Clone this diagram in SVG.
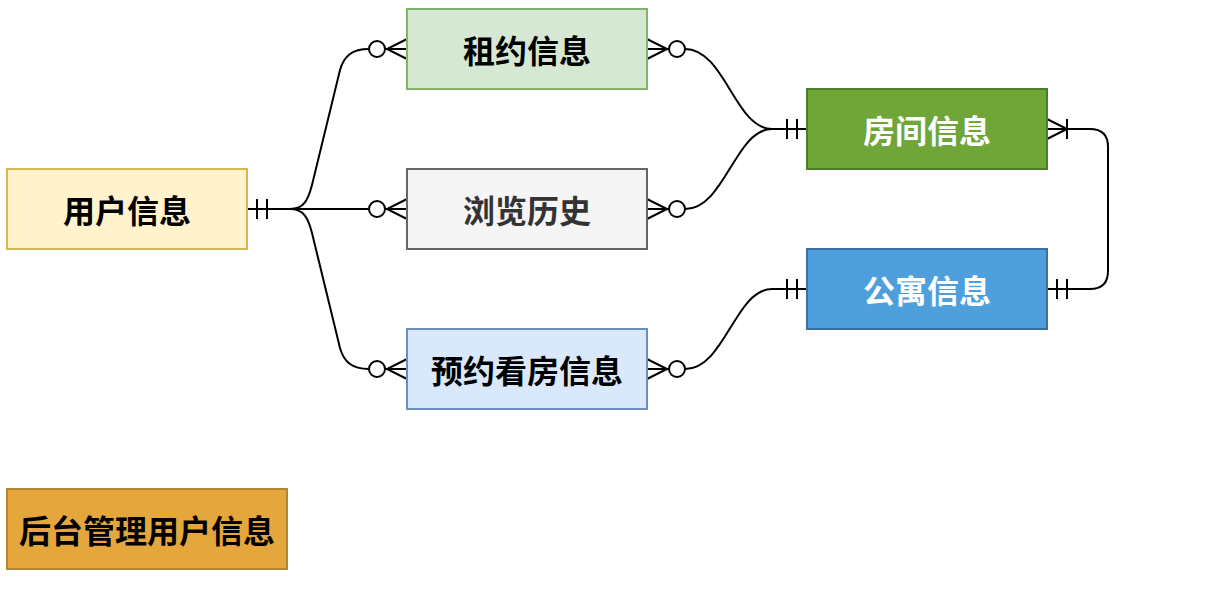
<svg xmlns="http://www.w3.org/2000/svg" width="1207" height="596" viewBox="0 0 1207 596">
<style>
.box{stroke-width:2}
.t{font-family:"Noto Sans CJK SC","Noto Sans",sans-serif;font-size:32px;font-weight:bold;text-anchor:middle;dominant-baseline:central}
.e{fill:none;stroke:#000;stroke-width:2}
.c{fill:#fff;stroke:#000;stroke-width:2}
</style>
<rect width="1207" height="596" fill="#fff"/>
<g id="edges">
  <path class="e" d="M247,209 L290,209 C304,209 308,200 312,185 L340,70 C344,56 352,49 369,49"/>
  <path class="e" d="M247,209 L369,209"/>
  <path class="e" d="M247,209 L290,209 C304,209 308,218 312,233 L340,348 C344,362 352,369 369,369"/>
  <path class="e" d="M257,199 V219 M267,199 V219"/>
  <g id="zm1"><circle class="c" cx="377" cy="49" r="8"/><path class="e" d="M385,49 H407 M407,39 L387,49 L407,59"/></g>
  <g id="zm2"><circle class="c" cx="377" cy="209" r="8"/><path class="e" d="M385,209 H407 M407,199 L387,209 L407,219"/></g>
  <g id="zm3"><circle class="c" cx="377" cy="369" r="8"/><path class="e" d="M385,369 H407 M407,359 L387,369 L407,379"/></g>
  <path class="e" d="M685,49 C725,49 735,129 772,129 L807,129"/>
  <path class="e" d="M685,209 C725,209 735,129 772,129"/>
  <path class="e" d="M685,369 C725,369 735,289 772,289 L807,289"/>
  <g><circle class="c" cx="677" cy="49" r="8"/><path class="e" d="M647,49 H669 M647,39 L667,49 L647,59"/></g>
  <g><circle class="c" cx="677" cy="209" r="8"/><path class="e" d="M647,209 H669 M647,199 L667,209 L647,219"/></g>
  <g><circle class="c" cx="677" cy="369" r="8"/><path class="e" d="M647,369 H669 M647,359 L667,369 L647,379"/></g>
  <path class="e" d="M787,119 V139 M797,119 V139"/>
  <path class="e" d="M787,279 V299 M797,279 V299"/>
  <path class="e" d="M1047,129 H1090 Q1108,129 1108,147 V271 Q1108,289 1090,289 H1047"/>
  <path class="e" d="M1047,119 L1067,129 L1047,139 M1067,119 V139"/>
  <path class="e" d="M1057,279 V299 M1067,279 V299"/>
</g>
<g id="user"><rect class="box" x="7" y="169" width="240" height="80" fill="#fff2cc" stroke="#d6b656"/><text class="t" x="127" y="209" fill="#000">用户信息</text></g>
<g id="lease"><rect class="box" x="407" y="9" width="240" height="80" fill="#d5e8d4" stroke="#82b366"/><text class="t" x="527" y="49" fill="#000">租约信息</text></g>
<g id="history"><rect class="box" x="407" y="169" width="240" height="80" fill="#f5f5f5" stroke="#666666"/><text class="t" x="527" y="209" fill="#333333">浏览历史</text></g>
<g id="appointment"><rect class="box" x="407" y="329" width="240" height="80" fill="#dae8fc" stroke="#6c8ebf"/><text class="t" x="527" y="369" fill="#000">预约看房信息</text></g>
<g id="room"><rect class="box" x="807" y="89" width="240" height="80" fill="#70a537" stroke="#4b7f27"/><text class="t" x="927" y="129" fill="#fff">房间信息</text></g>
<g id="apartment"><rect class="box" x="807" y="249" width="240" height="80" fill="#4f9fdc" stroke="#3c6fa4"/><text class="t" x="927" y="289" fill="#fff">公寓信息</text></g>
<g id="admin"><rect class="box" x="7" y="489" width="280" height="80" fill="#e5a73c" stroke="#b48439"/><text class="t" x="147" y="529" fill="#000">后台管理用户信息</text></g>
</svg>
